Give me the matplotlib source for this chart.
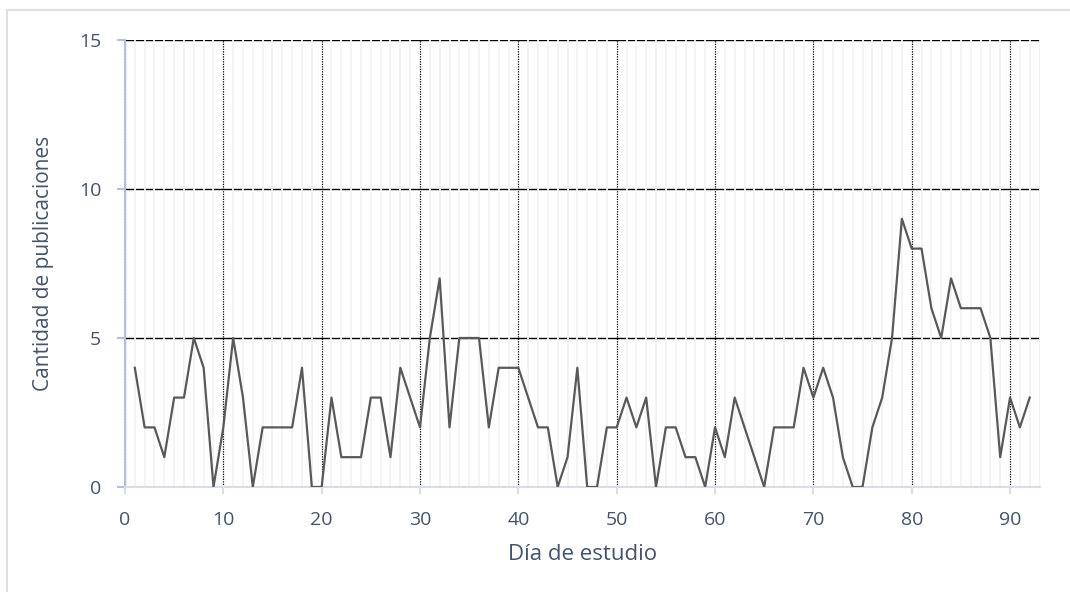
import matplotlib.pyplot as plt
from matplotlib.patches import Rectangle
from matplotlib.ticker import MultipleLocator

# publicaciones por día de estudio
dias = list(range(1, 93))
publicaciones = [4, 2, 2, 1, 3, 3, 5, 4, 0, 2,
                 5, 3, 0, 2, 2, 2, 2, 4, 0, 0,
                 3, 1, 1, 1, 3, 3, 1, 4, 3, 2,
                 5, 7, 2, 5, 5, 5, 2, 4, 4, 4,
                 3, 2, 2, 0, 1, 4, 0, 0, 2, 2,
                 3, 2, 3, 0, 2, 2, 1, 1, 0, 2,
                 1, 3, 2, 1, 0, 2, 2, 2, 4, 3,
                 4, 3, 1, 0, 0, 2, 3, 5, 9, 8,
                 8, 6, 5, 7, 6, 6, 6, 5, 1, 3,
                 2, 3]

txt_color = '#44546a'
plt.rcParams['font.family'] = ['Open Sans', 'DejaVu Sans']

fig = plt.figure(figsize=(10.70, 5.92), dpi=100)
# marco del gráfico (solo se ven los bordes izquierdo y superior)
fig.patches.append(Rectangle((7 / 1070, -0.1), 2.0, 1.1 - 10 / 592, transform=fig.transFigure,
                             fill=False, edgecolor='#dde0e6', linewidth=1.5))
ax = fig.add_axes([0.1168, 0.1774, 0.8552, 0.755])

ax.plot(dias, publicaciones, color='#595959', linewidth=1.6, zorder=3)

ax.set_xlim(0, 93.05)
ax.set_ylim(0, 15)
ax.xaxis.set_major_locator(MultipleLocator(10))
ax.xaxis.set_minor_locator(MultipleLocator(1))
ax.yaxis.set_major_locator(MultipleLocator(5))

# grid: the light vertical lines sit over the horizontal ones
ax.grid(which='major', axis='y', color='black', linewidth=1.0)
ax.grid(which='minor', axis='x', color='#f2f3f6', linewidth=1.3)
ax.grid(which='major', axis='x', color='black', linestyle=(0, (1, 1)), linewidth=0.9)
ax.set_axisbelow(True)
ax.yaxis.set_zorder(0.4)
ax.xaxis.set_zorder(0.6)

for s in ['top', 'right']:
    ax.spines[s].set_visible(False)
ax.spines['left'].set_color('#b4c0d8')
ax.spines['left'].set_linewidth(1.5)
ax.spines['bottom'].set_color('#d9dde6')
ax.spines['bottom'].set_linewidth(1.5)

ax.tick_params(axis='y', which='major', length=6, color='#b4c0d8', width=1.5,
               labelsize=14, labelcolor=txt_color, pad=11)
ax.tick_params(axis='x', which='major', length=5, color='#d9dde6', width=1.5,
               labelsize=14, labelcolor=txt_color, pad=12)
ax.tick_params(axis='x', which='minor', length=0)

ax.set_ylabel('Cantidad de publicaciones', fontsize=15, color=txt_color, labelpad=18)
ax.set_xlabel('Día de estudio', fontsize=16, color=txt_color, labelpad=11)

fig.savefig('out.png', dpi=100, facecolor='white')
